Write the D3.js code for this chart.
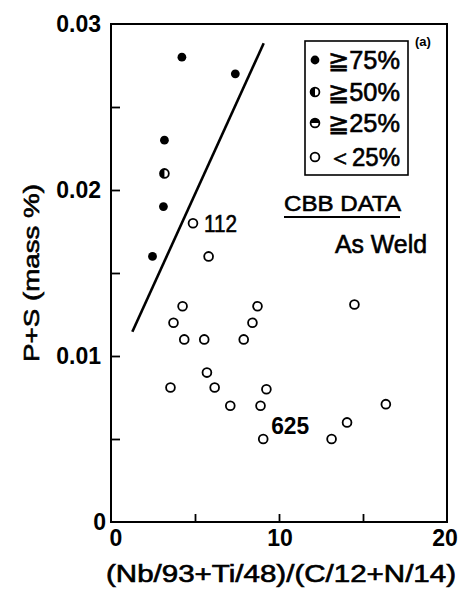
<!DOCTYPE html>
<html><head><meta charset="utf-8">
<script src="https://cdn.jsdelivr.net/npm/d3@7"></script>
<style>html,body{margin:0;padding:0;background:#fff;}</style>
</head><body>
<svg id="c" width="471" height="590"></svg>
<script>
// ---- data ----
const xTickValues = [0, 10, 20];
const xMinorTicks = [5, 10, 15];
const yTickValues = [0, 0.01, 0.02, 0.03];
const yMinorTicks = [0.005, 0.01, 0.015, 0.02, 0.025];
const ge75 = [[4.22,0.028],[7.4,0.027],[3.18,0.023],[3.12,0.019],[2.47,0.016]];
const ge50 = [[3.18,0.021]];
const ge25 = [];
const lt25 = [[4.88,0.018],[5.81,0.016],[4.26,0.013],[3.72,0.012],[4.36,0.011],[5.55,0.011],
  [7.9,0.011],[8.42,0.012],[8.72,0.013],[14.49,0.0131],[5.71,0.009],[3.54,0.0081],[6.17,0.0081],
  [9.25,0.008],[7.1,0.007],[8.9,0.007],[16.36,0.0071],[9.06,0.005],[13.13,0.005],[14.05,0.006]];
const fitLine = [[1.27,0.01146],[9.09,0.02884]];
const legendLabels = ["≧75%","≧50%","≧25%","＜25%"];
const pointLabels = [{text:"112", at:[4.88,0.018]},{text:"625", at:[9.06,0.005]}];

const svg = d3.select("#c");
const x = d3.scaleLinear().domain([0,20]).range([111,447]);
const y = d3.scaleLinear().domain([0,0.03]).range([522,24]);
const font = "'Liberation Sans', Arial, sans-serif";
function heavy(t){ return t.attr("stroke","#000").attr("stroke-width",0.6); }

// frame
svg.append("rect").attr("x",x(0)).attr("y",y(0.03)).attr("width",x(20)-x(0)).attr("height",y(0)-y(0.03))
  .attr("fill","none").attr("stroke","#000").attr("stroke-width",2);

// inner ticks
const xAx = d3.axisTop(x).tickValues(xMinorTicks).tickSize(8).tickFormat("");
svg.append("g").attr("transform",`translate(0,${y(0)})`).call(xAx)
  .call(g=>g.select(".domain").remove()).selectAll("line").attr("stroke-width",1.8);
const yAx = d3.axisRight(y).tickValues(yMinorTicks).tickSize(9).tickFormat("");
svg.append("g").attr("transform",`translate(${x(0)},0)`).call(yAx)
  .call(g=>g.select(".domain").remove()).selectAll("line").attr("stroke-width",1.8);

// tick labels
svg.append("g").selectAll("text").data(xTickValues).join("text")
  .attr("x",d=>d===0?x(d)+5:(d===20?x(d)-2:x(d)+1)).attr("y",546)
  .attr("text-anchor","middle").attr("font-family",font).attr("font-size",23).attr("font-weight","bold")
  .text(d=>d3.format("d")(d));
svg.append("g").selectAll("text").data(yTickValues).join("text")
  .attr("x",d=>d===0?106:101).attr("y",d=>d===0?530:y(d)+8)
  .attr("text-anchor","end").attr("font-family",font).attr("font-size",23).attr("font-weight","bold")
  .text(d=>d===0?"0":d3.format(".2f")(d));

// axis titles
heavy(svg.append("text").attr("x",106).attr("y",582).attr("font-family",font).attr("font-size",23)
  .attr("textLength",350).attr("lengthAdjust","spacingAndGlyphs")
  .text("(Nb/93+Ti/48)/(C/12+N/14)"));
heavy(svg.append("text").attr("transform","translate(39,362) rotate(-90)").attr("font-family",font).attr("font-size",22)
  .attr("textLength",178).attr("lengthAdjust","spacingAndGlyphs")
  .text("P+S (mass %)"));

// fit line
svg.append("path").datum(fitLine).attr("d",d3.line().x(d=>x(d[0])).y(d=>y(d[1])))
  .attr("stroke","#000").attr("stroke-width",2.6).attr("fill","none");

// symbols
const R = 4.4;
function halfLeft(cx,cy,r){return `M${cx},${cy-r}A${r},${r} 0 0 0 ${cx},${cy+r}Z`;}
function halfTop(cx,cy,r){return `M${cx-r},${cy}A${r},${r} 0 0 1 ${cx+r},${cy}Z`;}
function drawSym(g,type,cx,cy){
  if(type===0){ g.append("circle").attr("cx",cx).attr("cy",cy).attr("r",R).attr("fill","#000"); return; }
  g.append("circle").attr("cx",cx).attr("cy",cy).attr("r",R).attr("fill","#fff").attr("stroke","#000").attr("stroke-width",1.8);
  if(type===1) g.append("path").attr("d",halfLeft(cx,cy,R)).attr("fill","#000");
  if(type===2) g.append("path").attr("d",halfTop(cx,cy,R)).attr("fill","#000");
}
const pts = svg.append("g");
[ge75,ge50,ge25,lt25].forEach((arr,t)=>arr.forEach(d=>drawSym(pts,t,x(d[0]),y(d[1]))));

// point labels
heavy(svg.append("text").attr("x",x(pointLabels[0].at[0])+11).attr("y",y(pointLabels[0].at[1])+9)
  .attr("font-family",font).attr("font-size",24).attr("textLength",33).attr("lengthAdjust","spacingAndGlyphs")
  .text(pointLabels[0].text));
svg.append("text").attr("x",x(pointLabels[1].at[0])+8).attr("y",y(pointLabels[1].at[1])-5)
  .attr("font-family",font).attr("font-size",24).attr("font-weight","bold").attr("textLength",38).attr("lengthAdjust","spacingAndGlyphs")
  .text(pointLabels[1].text);

// legend
svg.append("rect").attr("x",305).attr("y",41).attr("width",103).attr("height",134)
  .attr("fill","#fff").attr("stroke","#000").attr("stroke-width",1.6);
const rowsY = [60,92,123,157];
legendLabels.forEach((lab,i)=>{
  drawSym(svg,i,315,rowsY[i]);
  heavy(svg.append("text").attr("x",328).attr("y",rowsY[i]+9).attr("font-family",font).attr("font-size",25)
    .attr("textLength",72).attr("lengthAdjust","spacingAndGlyphs").text(lab));
});
svg.append("text").attr("x",415).attr("y",46).attr("font-family",font).attr("font-size",13).attr("font-weight","bold").text("(a)");

// annotations
heavy(svg.append("text").attr("x",284).attr("y",211).attr("font-family",font).attr("font-size",22)
  .attr("textLength",117).attr("lengthAdjust","spacingAndGlyphs").text("CBB DATA"));
svg.append("line").attr("x1",284).attr("x2",400).attr("y1",217).attr("y2",217).attr("stroke","#000").attr("stroke-width",2);
heavy(svg.append("text").attr("x",335).attr("y",253).attr("font-family",font).attr("font-size",25)
  .attr("textLength",92).attr("lengthAdjust","spacingAndGlyphs").text("As Weld"));
</script>
</body></html>
